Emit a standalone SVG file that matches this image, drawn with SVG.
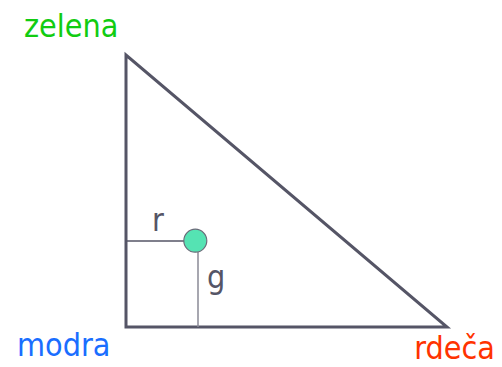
<svg xmlns="http://www.w3.org/2000/svg" width="502" height="367" viewBox="0 0 502 367">
<style>
text{font-family:"DejaVu Sans Condensed","DejaVu Sans",sans-serif;font-size:32px}
.lbl{fill:#555566}
</style>
<rect width="502" height="367" fill="#fff"/>
<g id="triangle">
<polygon points="126,55 126,327 447,327" fill="none" stroke="#555566" stroke-width="3" stroke-linejoin="miter"/>
</g>
<g id="connectors">
<line x1="126" y1="241" x2="184" y2="241" stroke="#555566" stroke-width="1.5"/>
<line x1="198" y1="252" x2="198" y2="327" stroke="#8a8a96" stroke-width="1.5"/>
</g>
<g id="point">
<circle cx="195.3" cy="240.7" r="11.5" fill="#55e3b3" stroke="#6a6a78" stroke-width="1.2"/>
</g>
<g id="labels">
<text x="24" y="37" fill="#11cc11">zelena</text>
<text x="17" y="356" fill="#1a6eff">modra</text>
<text x="495" y="359" text-anchor="end" fill="#ff3300">rdeča</text>
<text class="lbl" x="152" y="231">r</text>
<text class="lbl" x="207" y="288">g</text>
</g>
</svg>
